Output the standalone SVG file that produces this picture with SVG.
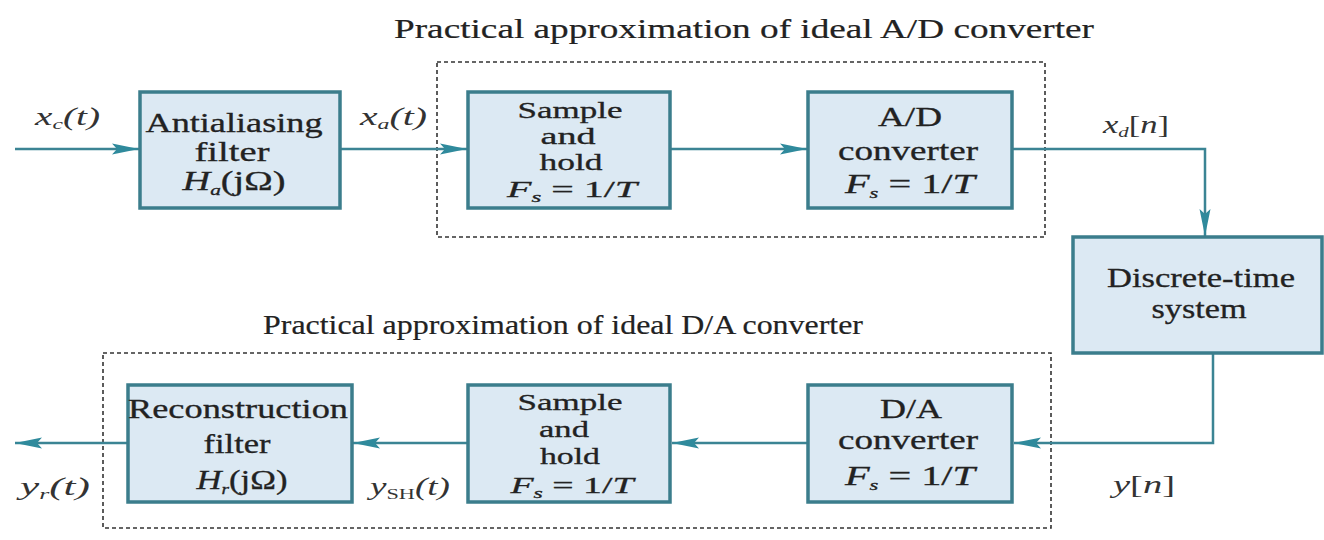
<svg xmlns="http://www.w3.org/2000/svg" width="1324" height="540" viewBox="0 0 1324 540">
<style>
.box{fill:#dce9f3;stroke:#3b7d8c;stroke-width:3.5}
.frame{fill:none;stroke:#333;stroke-width:1.6;stroke-dasharray:4 3}
.wire{fill:none;stroke:#3b8494;stroke-width:2.5}
.t{font-family:"Liberation Serif","Times New Roman",serif;font-size:27px;fill:#222;text-anchor:middle;stroke:#222;stroke-width:0.3}
.s{font-size:24px}
.title{font-family:"Liberation Serif","Times New Roman",serif;font-size:27px;fill:#222;stroke:#222;stroke-width:0.2}
.m{font-family:"Liberation Serif","Times New Roman",serif;font-size:25px;fill:#333;font-style:italic}
.sub{font-size:15px}
</style>
<defs>
<marker id="ah" markerUnits="userSpaceOnUse" markerWidth="28" markerHeight="14" refX="27" refY="7" orient="auto">
<path d="M0,1.5 L27,7 L0,12.5 L5,7 z" fill="#2f8a9c"/>
</marker>
</defs>

<text class="title" x="394" y="38" textLength="700" lengthAdjust="spacingAndGlyphs">Practical approximation of ideal A/D converter</text>
<text class="title" x="263" y="334" textLength="600" lengthAdjust="spacingAndGlyphs">Practical approximation of ideal D/A converter</text>

<rect class="frame" x="437" y="62" width="608" height="175"/>
<rect class="frame" x="103" y="353" width="948" height="175"/>

<g id="connectors">
<line class="wire" x1="15" y1="149" x2="139" y2="149" marker-end="url(#ah)"/>
<line class="wire" x1="341" y1="149" x2="467" y2="149" marker-end="url(#ah)"/>
<line class="wire" x1="671" y1="149" x2="807" y2="149" marker-end="url(#ah)"/>
<polyline class="wire" points="1013,149 1205,149 1205,236" marker-end="url(#ah)"/>
<polyline class="wire" points="1213,354 1213,443 1014,443" marker-end="url(#ah)"/>
<line class="wire" x1="807" y1="443" x2="672" y2="443" marker-end="url(#ah)"/>
<line class="wire" x1="467" y1="443" x2="353" y2="443" marker-end="url(#ah)"/>
<line class="wire" x1="127" y1="443" x2="15" y2="443" marker-end="url(#ah)"/>
</g>

<g id="labels">
<text class="m" x="35" y="125" textLength="65" lengthAdjust="spacingAndGlyphs">x<tspan class="sub" dy="4">c</tspan><tspan dy="-4">(t)</tspan></text>
<text class="m" x="360" y="125" textLength="67" lengthAdjust="spacingAndGlyphs">x<tspan class="sub" dy="4">a</tspan><tspan dy="-4">(t)</tspan></text>
<text class="m" x="1103" y="133" textLength="66" lengthAdjust="spacingAndGlyphs">x<tspan class="sub" dy="4">d</tspan><tspan dy="-4" font-style="normal">[</tspan>n<tspan font-style="normal">]</tspan></text>
<text class="m" x="1113" y="493" textLength="62" lengthAdjust="spacingAndGlyphs">y<tspan font-style="normal">[</tspan>n<tspan font-style="normal">]</tspan></text>
<text class="m" x="20" y="495" textLength="70" lengthAdjust="spacingAndGlyphs">y<tspan class="sub" dy="4">r</tspan><tspan dy="-4">(t)</tspan></text>
<text class="m" x="370" y="495" textLength="80" lengthAdjust="spacingAndGlyphs">y<tspan class="sub" dy="4" font-style="normal">SH</tspan><tspan dy="-4">(t)</tspan></text>
</g>

<g id="antialiasing">
<rect class="box" x="140" y="92" width="200" height="116"/>
<text class="t" x="234" y="132" textLength="177" lengthAdjust="spacingAndGlyphs">Antialiasing</text>
<text class="t" x="232" y="161" textLength="75" lengthAdjust="spacingAndGlyphs">filter</text>
<text class="t" x="234" y="190" font-style="italic" textLength="103" lengthAdjust="spacingAndGlyphs">H<tspan class="sub" dy="5">a</tspan><tspan dy="-5" font-style="normal">(j</tspan><tspan font-style="normal">Ω)</tspan></text>
</g>

<g id="sample-hold-ad">
<rect class="box" x="468" y="92" width="202" height="116"/>
<text class="t s" x="570" y="118" textLength="105" lengthAdjust="spacingAndGlyphs">Sample</text>
<text class="t s" x="568" y="144" textLength="55" lengthAdjust="spacingAndGlyphs">and</text>
<text class="t s" x="571" y="170" textLength="63" lengthAdjust="spacingAndGlyphs">hold</text>
<text class="t s" x="572" y="197" font-style="italic" textLength="130" lengthAdjust="spacingAndGlyphs">F<tspan class="sub" dy="5">s</tspan><tspan dy="-5" font-style="normal"> = 1/</tspan>T</text>
</g>

<g id="ad-converter">
<rect class="box" x="808" y="92" width="204" height="116"/>
<text class="t" x="910" y="126" textLength="64" lengthAdjust="spacingAndGlyphs">A/D</text>
<text class="t" x="908" y="160" textLength="140" lengthAdjust="spacingAndGlyphs">converter</text>
<text class="t" x="910" y="193" font-style="italic" textLength="130" lengthAdjust="spacingAndGlyphs">F<tspan class="sub" dy="5">s</tspan><tspan dy="-5" font-style="normal"> = 1/</tspan>T</text>
</g>

<g id="discrete-time">
<rect class="box" x="1073" y="237" width="249" height="116"/>
<text class="t" x="1201" y="287" textLength="188" lengthAdjust="spacingAndGlyphs">Discrete-time</text>
<text class="t" x="1199" y="318" textLength="95" lengthAdjust="spacingAndGlyphs">system</text>
</g>

<g id="da-converter">
<rect class="box" x="808" y="385" width="204" height="117"/>
<text class="t" x="911" y="418" textLength="62" lengthAdjust="spacingAndGlyphs">D/A</text>
<text class="t" x="908" y="449" textLength="140" lengthAdjust="spacingAndGlyphs">converter</text>
<text class="t" x="910" y="485" font-style="italic" textLength="130" lengthAdjust="spacingAndGlyphs">F<tspan class="sub" dy="5">s</tspan><tspan dy="-5" font-style="normal"> = 1/</tspan>T</text>
</g>

<g id="sample-hold-da">
<rect class="box" x="468" y="385" width="202" height="117"/>
<text class="t s" x="570" y="410" textLength="105" lengthAdjust="spacingAndGlyphs">Sample</text>
<text class="t s" x="564" y="437" textLength="50" lengthAdjust="spacingAndGlyphs">and</text>
<text class="t s" x="570" y="464" textLength="60" lengthAdjust="spacingAndGlyphs">hold</text>
<text class="t s" x="572" y="493" font-style="italic" textLength="123" lengthAdjust="spacingAndGlyphs">F<tspan class="sub" dy="5">s</tspan><tspan dy="-5" font-style="normal"> = 1/</tspan>T</text>
</g>

<g id="reconstruction">
<rect class="box" x="128" y="385" width="224" height="117"/>
<text class="t" x="238" y="418" textLength="220" lengthAdjust="spacingAndGlyphs">Reconstruction</text>
<text class="t" x="237" y="453" textLength="67" lengthAdjust="spacingAndGlyphs">filter</text>
<text class="t" x="242" y="489" font-style="italic" textLength="91" lengthAdjust="spacingAndGlyphs">H<tspan class="sub" dy="5">r</tspan><tspan dy="-5" font-style="normal">(j</tspan><tspan font-style="normal">Ω)</tspan></text>
</g>
</svg>
